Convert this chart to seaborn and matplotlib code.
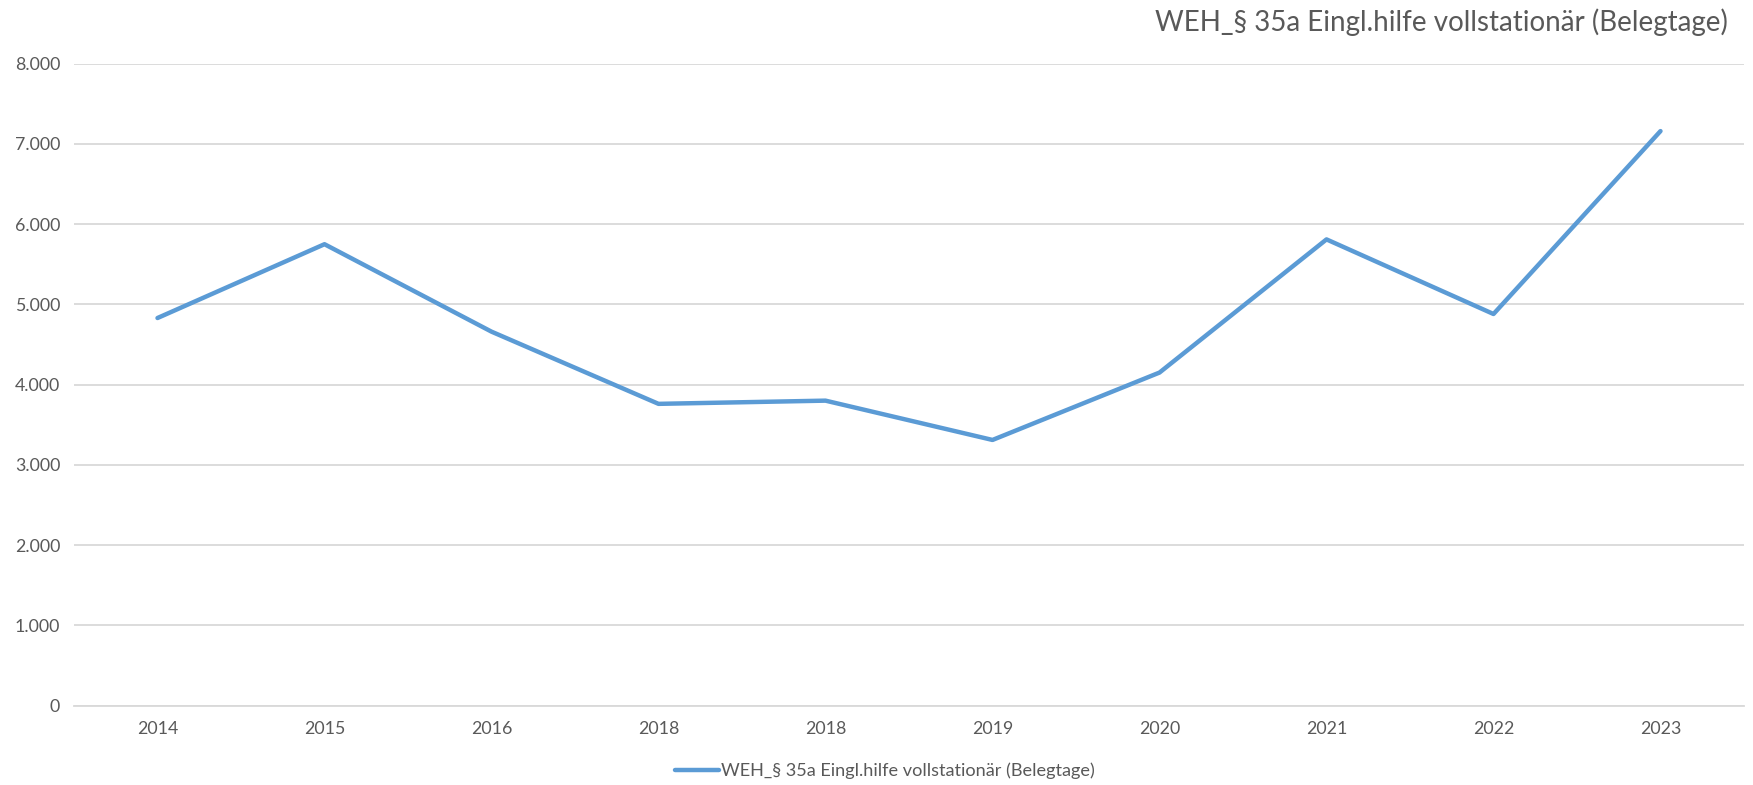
import matplotlib
matplotlib.use("Agg")
import matplotlib.pyplot as plt
import seaborn as sns
import pandas as pd
import numpy as np

# Belegtage per reporting year (the year 2018 appears twice in the source table)
years = ["2014", "2015", "2016", "2018", "2018", "2019", "2020", "2021", "2022", "2023"]
belegtage = [4830, 5750, 4660, 3760, 3800, 3310, 4150, 5810, 4880, 7160]
series_name = "WEH_§ 35a Eingl.hilfe vollstationär (Belegtage)"
y_ticks = [0, 1000, 2000, 3000, 4000, 5000, 6000, 7000, 8000]

sns.set_theme(style="white")
plt.rcParams["font.family"] = ["Lato", "DejaVu Sans"]

df = pd.DataFrame({"pos": np.arange(len(years)), "value": belegtage, "series": series_name})

fig = plt.figure(figsize=(17.53, 7.85), dpi=100)
ax = fig.add_axes([74 / 1753, 1 - 705.5 / 785, (1744 - 74) / 1753, (705.5 - 63.7) / 785])

line_color = "#5B9BD5"
text_color = "#595959"

sns.lineplot(data=df, x="pos", y="value", hue="series", palette=[line_color],
             linewidth=3.2, ax=ax, legend=False, solid_capstyle="round")

ax.set_xlim(-0.5, len(years) - 0.5)
ax.set_ylim(0, 8000)
ax.set_yticks(y_ticks)
ax.set_yticklabels([f"{v:,}".replace(",", ".") for v in y_ticks])
ax.set_xticks(np.arange(len(years)))
ax.set_xticklabels(years)
ax.tick_params(axis="both", length=0, labelsize=12.8, labelcolor=text_color)
ax.tick_params(axis="y", pad=10)
ax.tick_params(axis="x", pad=11)
ax.set_xlabel("")
ax.set_ylabel("")

ax.yaxis.grid(True, color="#D9D9D9", linewidth=1.3)
ax.set_axisbelow(True)
for side in ["top", "right", "left"]:
    ax.spines[side].set_visible(False)
ax.spines["bottom"].set_color("#D9D9D9")
ax.spines["bottom"].set_linewidth(1.3)

fig.text(1728 / 1753, 1 - 22 / 785, series_name, ha="right", va="center",
         fontsize=20, color=text_color)

handle = plt.Line2D([], [], color=line_color, linewidth=3.2)
fig.legend([handle], [series_name], loc="center", bbox_to_anchor=(885 / 1753, 1 - 771 / 785),
           frameon=False, fontsize=13.1, labelcolor=text_color, handlelength=2.4,
           handletextpad=0.1)

fig.savefig("out.png", dpi=100, facecolor="white")
